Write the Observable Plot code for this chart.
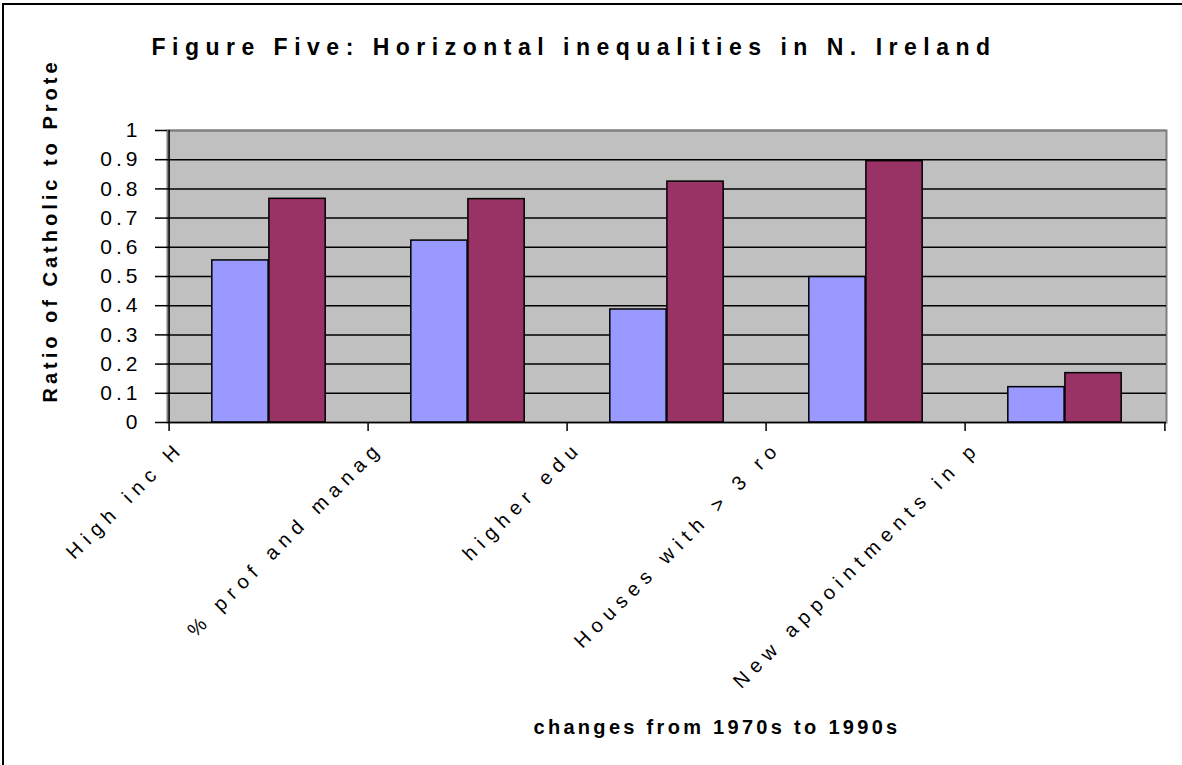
<!DOCTYPE html>
<html><head><meta charset="utf-8">
<script src="https://cdn.jsdelivr.net/npm/d3@7"></script>
<script src="https://cdn.jsdelivr.net/npm/@observablehq/plot@0.6"></script>
<style>
html,body{margin:0;padding:0;background:#fff;overflow:hidden}
#wrap{position:relative;width:1182px;height:765px;overflow:hidden}
#border{position:absolute;left:2px;top:3px;width:1300px;height:900px;border-top:2px solid #000;border-left:2px solid #000;pointer-events:none}
</style></head><body><div id="wrap"><div id="border"></div></div>
<script>
const categories = ["High inc H", "% prof and manag", "higher edu", "Houses with > 3 ro", "New appointments in p"];
const values1970s = [0.555, 0.623, 0.387, 0.498, 0.121];
const values1990s = [0.766, 0.765, 0.825, 0.895, 0.169];
const yTicks = [0, 0.1, 0.2, 0.3, 0.4, 0.5, 0.6, 0.7, 0.8, 0.9, 1];
const title = "Figure Five: Horizontal inequalities in N. Ireland";
const yTitle = "Ratio of Catholic to Prote";
const xTitle = "changes from 1970s to 1990s";

const W = 1182, H = 765, ML = 167, MR = 16, MT = 130, MB = 343;
const bw = (W - ML - MR) / categories.length;
const barW = bw / 3.5;

const rows = categories.map((c, i) => ({cat: c, a: values1970s[i], b: values1990s[i]}));

const chart = Plot.plot({
  width: W, height: H,
  marginLeft: ML, marginRight: MR, marginTop: MT, marginBottom: MB,
  style: {fontFamily: "'Liberation Sans', Arial, sans-serif", background: "transparent", color: "#000", overflow: "visible"},
  x: {type: "band", domain: categories, padding: 0, axis: null},
  y: {domain: [0, 1], axis: null},
  marks: [
    Plot.frame({fill: "#C0C0C0", stroke: "#808080", strokeWidth: 2}),
    Plot.ruleY(yTicks.filter(d => d > 0 && d < 1), {stroke: "#000", strokeWidth: 1.5}),
    Plot.ruleY([1], {stroke: "#808080", strokeWidth: 2}),
    Plot.barY(rows, {x: "cat", y: "a", fill: "#9999FF", stroke: "#000", strokeWidth: 1.5,
      insetLeft: bw / 2 - barW, insetRight: bw / 2}),
    Plot.barY(rows, {x: "cat", y: "b", fill: "#993366", stroke: "#000", strokeWidth: 1.5,
      insetLeft: bw / 2, insetRight: bw / 2 - barW}),
    Plot.ruleX([categories[0]], {dx: -bw / 2, y1: 0, y2: 1, stroke: "#000", strokeWidth: 1.5}),
    Plot.ruleY([0], {stroke: "#000", strokeWidth: 1.5}),
    Plot.ruleX(categories, {dx: -bw / 2, y1: 0, y2: 0, insetBottom: -9, stroke: "#000", strokeWidth: 1.5}),
    Plot.ruleX([categories[categories.length - 1]], {dx: bw / 2, y1: 0, y2: 0, insetBottom: -9, stroke: "#000", strokeWidth: 1.5}),
    Plot.axisY({ticks: yTicks, tickSize: 12, tickPadding: 14, fontSize: 21, stroke: "#000", strokeWidth: 1.5,
      tickFormat: d => String(+d.toFixed(1)), label: null}),
    Plot.text(categories, {x: d => d, frameAnchor: "bottom", textAnchor: "end", lineAnchor: "middle", rotate: -45,
      dx: -88, dy: 22, fontSize: 20, fill: "#000"}),
    Plot.text([title], {frameAnchor: "top", dx: -93, dy: -83, lineAnchor: "middle", fontSize: 23, fontWeight: "bold", fill: "#000"}),
    Plot.text([xTitle], {frameAnchor: "bottom", dx: 50, dy: 305, lineAnchor: "middle", fontSize: 20, fontWeight: "bold", fill: "#000"}),
    Plot.text([yTitle], {frameAnchor: "bottom-left", dx: -117, dy: -20, textAnchor: "start", lineAnchor: "middle", rotate: -90, fontSize: 20, fontWeight: "bold", fill: "#000"})
  ]
});

const svg = d3.select(chart);
const spacing = (t) => {
  if (t === title) return "6.5px";
  if (t === xTitle) return "3.3px";
  if (t === yTitle) return "4px";
  if (categories.includes(t)) return "6.5px";
  return "4px";
};
svg.selectAll("text").each(function () {
  this.style.letterSpacing = spacing(this.textContent);
});
chart.style.position = "absolute";
chart.style.left = "0px";
chart.style.top = "0px";
document.getElementById("wrap").appendChild(chart);
</script>
</body></html>
